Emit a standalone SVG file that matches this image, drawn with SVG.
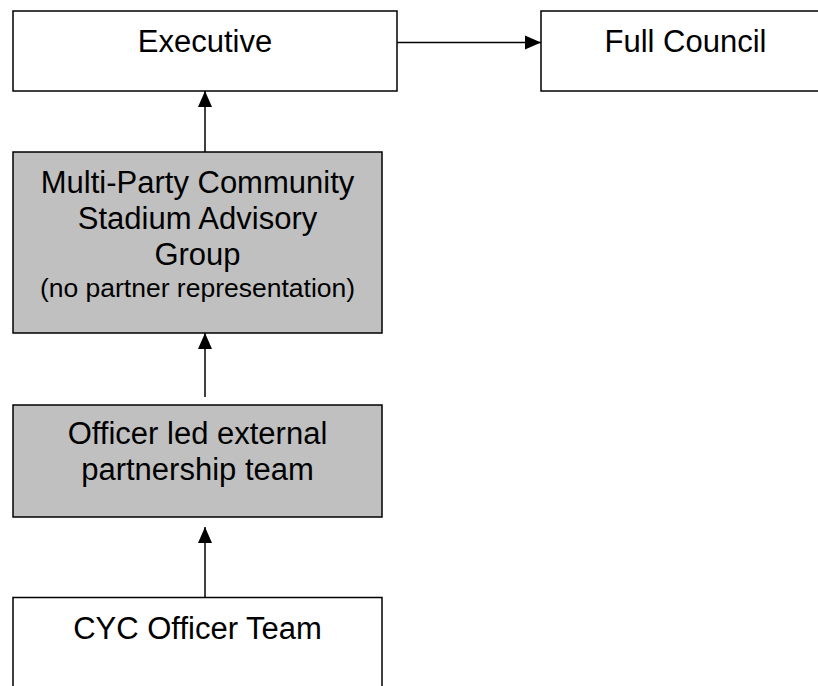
<svg xmlns="http://www.w3.org/2000/svg" width="818" height="686" viewBox="0 0 818 686">
  <style>
    .box { stroke: #000; stroke-width: 1.5; }
    .plain { fill: #fff; }
    .grey { fill: #c0c0c0; }
    .lbl { font-family: "Liberation Sans", Arial, sans-serif; font-size: 31px; fill: #000; text-anchor: middle; }
    .small { font-size: 26.5px; }
    .conn { stroke: #000; stroke-width: 1.5; fill: none; marker-end: url(#head); }
  </style>
  <defs>
    <marker id="head" markerUnits="userSpaceOnUse" markerWidth="16" markerHeight="16" viewBox="0 0 16 16" refX="16" refY="8" orient="auto">
      <path d="M0,1 L16,8 L0,15 Z" fill="#000"/>
    </marker>
  </defs>
  <rect width="818" height="686" fill="#fff"/>

  <g id="executive">
    <rect class="box plain" x="13" y="11" width="384" height="80"/>
    <text class="lbl" x="205" y="52">Executive</text>
  </g>

  <g id="full-council">
    <rect class="box plain" x="541" y="11" width="290" height="80"/>
    <text class="lbl" x="685.5" y="52">Full Council</text>
  </g>

  <g id="advisory-group">
    <rect class="box grey" x="13" y="152" width="369" height="181"/>
    <text class="lbl" x="197.5" y="192.5">Multi-Party Community</text>
    <text class="lbl" x="197.5" y="229">Stadium Advisory</text>
    <text class="lbl" x="197.5" y="265">Group</text>
    <text class="lbl small" x="197.5" y="297">(no partner representation)</text>
  </g>

  <g id="partnership-team">
    <rect class="box grey" x="13" y="405" width="369" height="112"/>
    <text class="lbl" x="197.5" y="444">Officer led external</text>
    <text class="lbl" x="197.5" y="480">partnership team</text>
  </g>

  <g id="cyc-officer-team">
    <rect class="box plain" x="13" y="597.5" width="369" height="100"/>
    <text class="lbl" x="197.5" y="638.5">CYC Officer Team</text>
  </g>

  <g id="connectors">
    <line class="conn" x1="397" y1="42.5" x2="541" y2="42.5"/>
    <line class="conn" x1="205" y1="152" x2="205" y2="91"/>
    <line class="conn" x1="205" y1="397" x2="205" y2="333"/>
    <line class="conn" x1="205" y1="598" x2="205" y2="527"/>
  </g>
</svg>
